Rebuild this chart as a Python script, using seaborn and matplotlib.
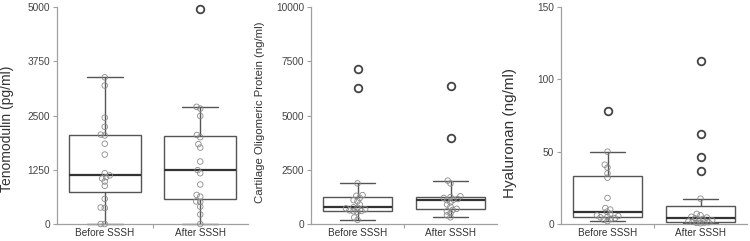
import numpy as np
import pandas as pd
import matplotlib
matplotlib.use("Agg")
import matplotlib.pyplot as plt
from matplotlib.ticker import FixedLocator
from matplotlib.path import Path
import seaborn as sns

groups = ["Before SSSH", "After SSSH"]

tnmd_before = [3380, 3190, 2450, 2240, 2060, 2040, 1850, 1600, 1170, 1120,
               1080, 1050, 980, 880, 580, 380, 370, 0, 0]
tnmd_after = [4960, 2700, 2660, 2490, 2050, 2000, 1840, 1760, 1440, 1240,
              1170, 910, 670, 630, 520, 510, 400, 220, 0]

comp_before = [7140, 6250, 1870, 1330, 1300, 1200, 1100, 1050, 900, 770,
               750, 720, 680, 630, 600, 590, 560, 300, 190]
comp_after = [6380, 3960, 2000, 1870, 1280, 1240, 1200, 1150, 1120, 1100,
              1000, 900, 800, 700, 650, 580, 500, 400, 310]

ha_before = [78, 50, 41, 39, 35, 32, 18, 11, 10, 8.5,
             7, 6, 5.5, 5, 4.6, 4, 3.5, 3, 2]
ha_after = [113, 62, 46, 36.5, 17.5, 7, 6, 5, 4.5, 3.9,
            3.5, 3, 2.5, 1.8, 1.5, 1.2, 1, 0.8, 0.5]

ylabels = ["Tenomodulin (pg/ml)", "Cartilage Oligomeric Protein (ng/ml)", "Hyaluronan (ng/ml)"]
yticks = [[0, 1250, 2500, 3750, 5000],
          [0, 2500, 5000, 7500, 10000],
          [0, 50, 100, 150]]
panels = [(tnmd_before, tnmd_after), (comp_before, comp_after), (ha_before, ha_after)]

sns.set_theme(style="white")
plt.rcParams["font.family"] = ["Liberation Sans", "DejaVu Sans"]

W, H = 750, 241
fig = plt.figure(figsize=(7.5, 2.41), dpi=100)
layout = [(57, 191), (311, 186), (561, 186)]
top_px, bot_px = 7, 224
label_y = [0.44, 0.515, 0.42]
label_x = [-43, -46, -44]
label_fs = [10, 8.2, 11]

swarm_size = 2.2
visual_size = 4.0
uc = Path.unit_circle()
big_circle = Path(uc.vertices * 0.5 * (visual_size / swarm_size), uc.codes)

for i, ((b, a), (left, width)) in enumerate(zip(panels, layout)):
    ax = fig.add_axes([left / W, 1 - bot_px / H, width / W, (bot_px - top_px) / H])
    df = pd.DataFrame({"group": [groups[0]] * len(b) + [groups[1]] * len(a),
                       "value": list(b) + list(a)})
    sns.boxplot(data=df, x="group", y="value", order=groups, width=0.75,
                color="white", linecolor="#555555", linewidth=1.0, whis=1.5,
                flierprops=dict(marker="o", markerfacecolor="none",
                                markeredgecolor="#444444", markeredgewidth=1.3,
                                markersize=5.5),
                medianprops=dict(color="#333333", linewidth=1.6),
                ax=ax)
    # non-outlier points
    keep = []
    for g in groups:
        v = df.loc[df.group == g, "value"].to_numpy(dtype=float)
        q1, q3 = np.percentile(v, [25, 75])
        iqr = q3 - q1
        keep.append((v >= q1 - 1.5 * iqr) & (v <= q3 + 1.5 * iqr))
    mask = np.concatenate(keep)
    sub = df[mask]
    n0 = len(ax.collections)
    sns.swarmplot(data=sub, x="group", y="value", order=groups, size=swarm_size,
                  color="#8a8a8a", ax=ax, zorder=4, linewidth=0.6)
    for c in ax.collections[n0:]:
        c.set_paths([big_circle])
        c.set_facecolor("none")
        c.set_edgecolor("#8a8a8a")
        c.set_clip_on(False)
    for ln in ax.lines:
        ln.set_clip_on(False)
        if ln.get_marker() == "o":
            ln.set_zorder(5)

    ax.set_xlim(-0.5, 1.5)
    ax.set_ylim(yticks[i][0], yticks[i][-1])
    ax.set_yticks(yticks[i])
    ax.set_yticklabels([str(t) for t in yticks[i]])
    ax.set_xlabel("")
    ax.set_ylabel(ylabels[i], fontsize=label_fs[i], color="#333333")
    ax.yaxis.set_label_coords(label_x[i] / width, label_y[i])
    for s in ["top", "right"]:
        ax.spines[s].set_visible(False)
    for s in ["left", "bottom"]:
        ax.spines[s].set_color("#a0a0a0")
        ax.spines[s].set_linewidth(0.9)
    ax.tick_params(axis="y", which="major", length=3, width=0.8, color="#a0a0a0",
                   labelsize=7.3, labelcolor="#444444", pad=2, left=True)
    ax.tick_params(axis="x", which="major", length=0, labelsize=7.2,
                   labelcolor="#333333", pad=3)
    ax.xaxis.set_minor_locator(FixedLocator([0.5]))
    ax.tick_params(axis="x", which="minor", length=3, width=0.8, color="#a0a0a0", bottom=True)
    ax.grid(False)

fig.savefig("out.png", dpi=100)
